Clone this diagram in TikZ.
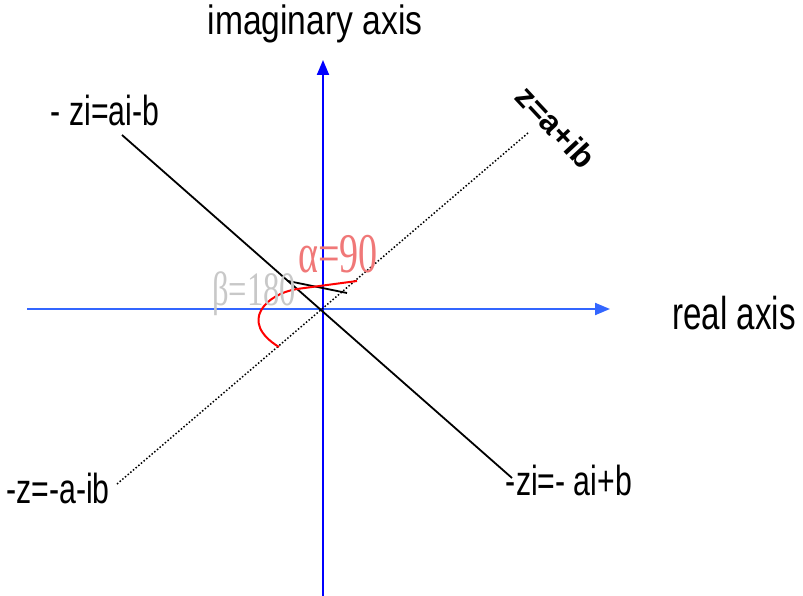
\documentclass[tikz,border=0pt]{standalone}
\usepackage{fontspec}
\setmainfont{Liberation Sans}
\newfontfamily\labfont[FakeStretch=0.72]{Liberation Sans}
\newfontfamily\imfont[FakeStretch=0.82]{Liberation Sans}
\newfontfamily\greekfont[FakeStretch=0.68]{Liberation Serif}
\usetikzlibrary{arrows.meta}
\definecolor{hblue}{RGB}{51,102,255}
\definecolor{vblue}{RGB}{0,0,255}
\definecolor{betagray}{RGB}{200,200,200}
\definecolor{alphared}{RGB}{240,120,120}
\begin{document}
\begin{tikzpicture}[x=1pt,y=-1pt,
  lab/.style={inner sep=0pt,anchor=base,font=\labfont\fontsize{42}{42}\selectfont},
  axis/.style={line width=2pt,-{Triangle[length=15pt,width=12pt]}},
  mainline/.style={black,line width=1.8pt},
  dotline/.style={black,line width=1.5pt,dotted},
  arc/.style={red,line width=2pt}]
\useasboundingbox (0,0) rectangle (803,596);
% coordinates
\coordinate (O) at (323,309);
\coordinate (hstart) at (27,309);
\coordinate (hend) at (610,309);
\coordinate (vstart) at (323,596);
\coordinate (vend) at (323,60);
\coordinate (ul) at (122,135);
\coordinate (lr) at (512,478);
\coordinate (ur) at (528,133);
\coordinate (ll) at (117,484);
\coordinate (s1) at (288,281);
\coordinate (s2) at (347,293);
\coordinate (r1) at (357,281);
\coordinate (r2) at (297,289);
\coordinate (r3) at (279,347);
% axes
\draw[axis,hblue] (hstart) -- (hend);
\draw[axis,vblue] (vstart) -- (vend);
% lines
\draw[mainline] (ul) -- (lr);
\draw[dotline] (ll) -- (ur);
\draw[black,line width=1.8pt] (s1) -- (s2);
\draw[arc] (r1) -- (r2) .. controls (266,294) and (238,322) .. (r3);
% labels
\node[lab,font=\imfont\fontsize{41}{41}\selectfont] (imag) at (315,35) {imaginary axis};
\node[lab,font=\labfont\fontsize{46}{46}\selectfont] (real) at (734,329) {real axis};
\node[lab] (zi1) at (105,126) {- zi=ai-b};
\node[lab] (mz) at (58,503) {-z=-a-ib};
\node[lab] (zi2) at (569,495) {-zi=- ai+b};
\node[inner sep=0pt,rotate=-47,font=\bfseries\fontsize{32}{32}\selectfont] (z) at (556,127) {z=a+ib};
\node[inner sep=0pt,anchor=base,text=alphared,font=\greekfont\fontsize{56}{56}\selectfont] (alpha) at (338,272) {α=90};
\node[inner sep=0pt,anchor=base,text=betagray,font=\greekfont\fontsize{48}{48}\selectfont] (beta) at (254,305) {β=180};
\end{tikzpicture}
\end{document}
